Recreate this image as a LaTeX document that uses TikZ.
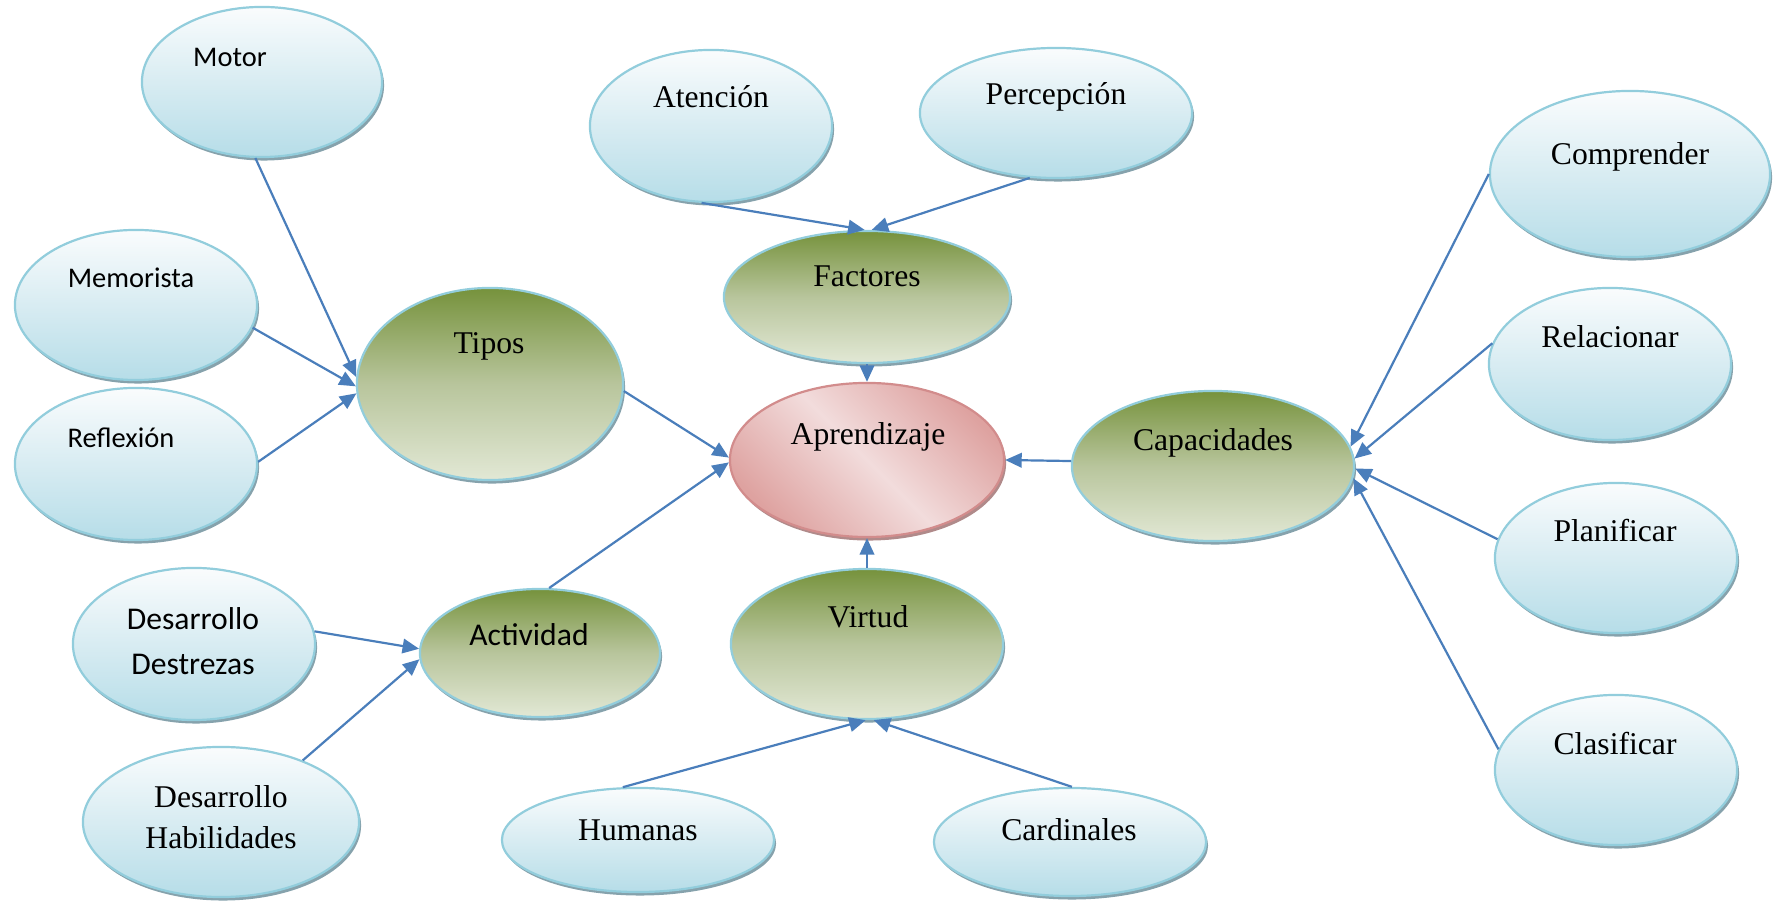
\documentclass[tikz,border=0pt]{standalone}
\usepackage{fontspec}
\setmainfont{Liberation Serif}
\newfontfamily\calfont{Carlito}
\usetikzlibrary{shapes.geometric,shadows,arrows.meta}

\definecolor{linkblue}{RGB}{74,126,187}
\definecolor{rimblue}{RGB}{146,205,220}
\definecolor{skytop}{RGB}{250,252,253}
\definecolor{skymid}{RGB}{216,236,242}
\definecolor{skybot}{RGB}{182,221,232}
\definecolor{olivetop}{RGB}{118,146,60}
\definecolor{olivemid}{RGB}{184,197,156}
\definecolor{olivebot}{RGB}{226,232,213}
\definecolor{rosedark}{RGB}{222,162,160}
\definecolor{roselight}{RGB}{242,220,220}
\definecolor{roserim}{RGB}{210,140,140}
\definecolor{shadeblue}{RGB}{134,162,172}
\definecolor{shaderose}{RGB}{176,138,138}

\tikzset{
  bubble/.style={ellipse, draw=rimblue, line width=0.022cm,
    top color=skytop, bottom color=skybot, middle color=skymid,
    drop shadow={shadow xshift=0.02cm, shadow yshift=-0.035cm, fill=shadeblue, opacity=1}},
  topic/.style={bubble, top color=olivetop, bottom color=olivebot, middle color=olivemid},
  core/.style={ellipse, draw=roserim, line width=0.022cm,
    top color=rosedark, bottom color=rosedark, middle color=roselight, shading angle=-45,
    drop shadow={shadow xshift=0.02cm, shadow yshift=-0.035cm, fill=shaderose, opacity=1}},
  serif/.style={font=\fontsize{9}{11}\selectfont, anchor=base},
  sans/.style={font=\calfont\fontsize{9}{11}\selectfont, anchor=base},
  sanssmall/.style={font=\calfont\fontsize{8.1}{10}\selectfont, anchor=base},
  link/.style={draw=linkblue, line width=0.022cm, -{Triangle[length=0.165cm,width=0.145cm]}}
}

\begin{document}
\begin{tikzpicture}[x=0.01cm,y=-0.01cm]
  \useasboundingbox (0,0) rectangle (1778,901);

  % ellipses
  \node[bubble, minimum width=2.40cm, minimum height=1.50cm] (mot) at (262,82) {};
  \node[bubble, minimum width=2.42cm, minimum height=1.50cm] (mem) at (136,305) {};
  \node[bubble, minimum width=2.42cm, minimum height=1.52cm] (ref) at (136,464) {};
  \node[topic, minimum width=2.66cm, minimum height=1.92cm] (tip) at (490,384) {};
  \node[bubble, minimum width=2.42cm, minimum height=1.52cm] (ate) at (711,126) {};
  \node[bubble, minimum width=2.72cm, minimum height=1.30cm] (per) at (1056,113) {};
  \node[topic, minimum width=2.86cm, minimum height=1.32cm] (fac) at (867,297) {};
  \node[core, minimum width=2.74cm, minimum height=1.54cm] (apr) at (867,460) {};
  \node[topic, minimum width=2.82cm, minimum height=1.50cm] (cap) at (1213,466) {};
  \node[bubble, minimum width=2.80cm, minimum height=1.66cm] (com) at (1630,174) {};
  \node[bubble, minimum width=2.42cm, minimum height=1.52cm] (rel) at (1610,364) {};
  \node[bubble, minimum width=2.42cm, minimum height=1.50cm] (pla) at (1616,558) {};
  \node[bubble, minimum width=2.42cm, minimum height=1.50cm] (cla) at (1616,770) {};
  \node[topic, minimum width=2.40cm, minimum height=1.28cm] (act) at (540,653) {};
  \node[topic, minimum width=2.72cm, minimum height=1.50cm] (vir) at (867,644) {};
  \node[bubble, minimum width=2.42cm, minimum height=1.52cm] (dd) at (194,644) {};
  \node[bubble, minimum width=2.76cm, minimum height=1.50cm] (dh) at (221,822) {};
  \node[bubble, minimum width=2.72cm, minimum height=1.04cm] (hum) at (638,840) {};
  \node[bubble, minimum width=2.72cm, minimum height=1.08cm] (car) at (1070,842) {};

  % texts
  \node[sanssmall] (motT) at (230,67) {Motor};
  \node[sanssmall] (memT) at (131,288) {Memorista};
  \node[sanssmall] (refT) at (121,448) {Reflexión};
  \node[serif] (tipT) at (489,354) {Tipos};
  \node[serif] (ateT) at (711,108) {Atención};
  \node[serif] (perT) at (1056,105) {Percepción};
  \node[serif] (facT) at (867,287) {Factores};
  \node[serif] (aprT) at (868,445) {Aprendizaje};
  \node[serif] (capT) at (1213,451) {Capacidades};
  \node[serif] (comT) at (1630,165) {Comprender};
  \node[serif] (relT) at (1610,348) {Relacionar};
  \node[serif] (plaT) at (1615,542) {Planificar};
  \node[serif] (claT) at (1615,755) {Clasificar};
  \node[sans] (actT) at (529,646) {Actividad};
  \node[serif] (virT) at (868,628) {Virtud};
  \node[serif] (humT) at (638,841) {Humanas};
  \node[serif] (carT) at (1069,841) {Cardinales};
  \node[sans, anchor=center, align=center, font=\calfont\fontsize{9}{12.8}\selectfont] (ddT) at (193,641) {Desarrollo\\Destrezas};
  \node[serif, anchor=center, align=center, font=\fontsize{9}{11.6}\selectfont] (dhT) at (221,817) {Desarrollo\\Habilidades};

  % connectors
  \path (mot.265) edge[link] (tip.177);
  \path (mem.349) edge[link] (tip.181);
  \path (ref.1) edge[link] (tip.184);
  \path (tip.357) edge[link] (apr.179);
  \path (act.82) edge[link] (apr.181);
  \path (dd.6) edge[link] (act.178);
  \path (dh.37) edge[link] (act.183);
  \path (ate.263) edge[link] (fac.92);
  \path (per.248) edge[link] (fac.86);
  \path (fac.south) edge[link] (apr.north);
  \path (vir.north) edge[link] (apr.south);
  \path (hum.106) edge[link] (vir.269);
  \path (car.88) edge[link] (vir.275);
  \path (cap.178) edge[link] (apr.east);
  \path (com.west) edge[link] (cap.8);
  \path (rel.170) edge[link] (cap.3);
  \path (pla.171) edge[link] (cap.359);
  \path (cla.170) edge[link] (cap.355);

\end{tikzpicture}
\end{document}
